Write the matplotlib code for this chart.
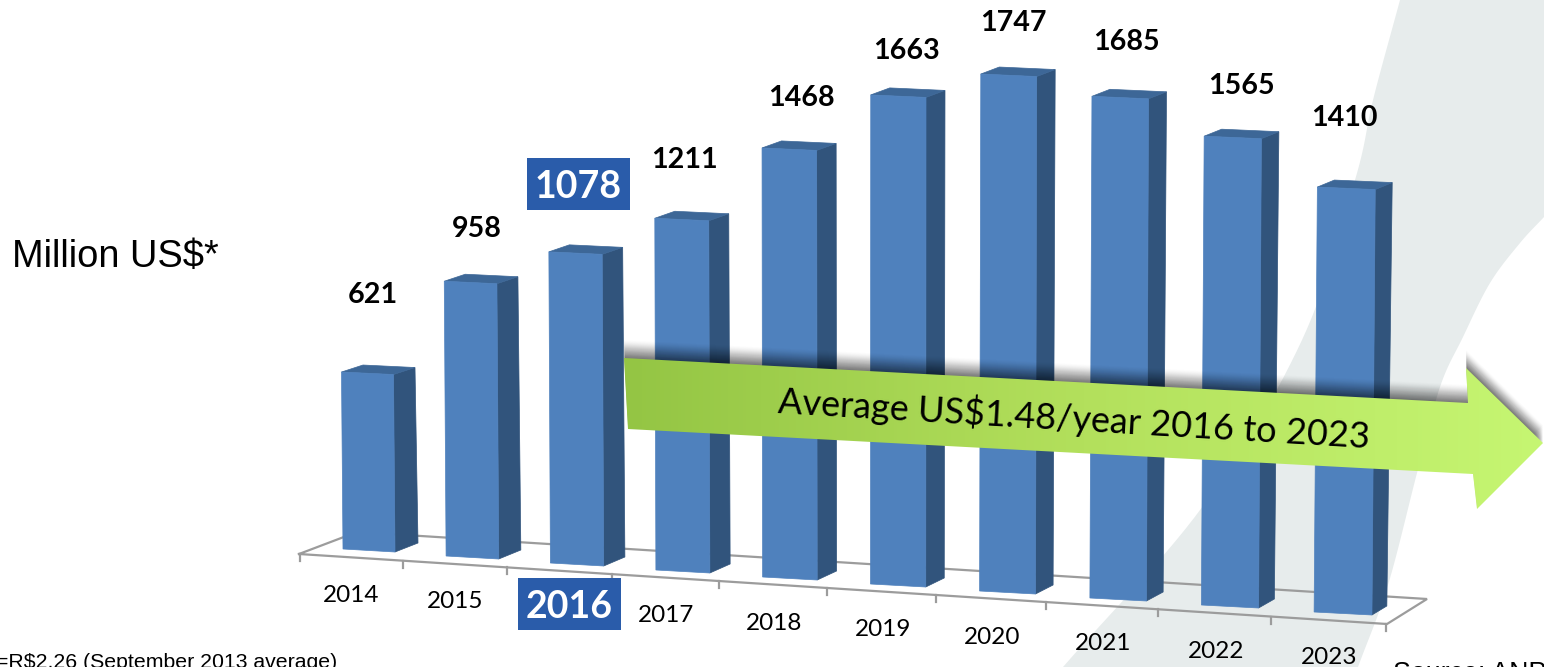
import numpy as np
import matplotlib
matplotlib.use("Agg")
import matplotlib.pyplot as plt
from matplotlib.patches import Polygon, Rectangle
from matplotlib.colors import LinearSegmentedColormap

# ---- data
years = ["2014", "2015", "2016", "2017", "2018", "2019", "2020", "2021", "2022", "2023"]
values = [621, 958, 1078, 1211, 1468, 1663, 1747, 1685, 1565, 1410]
highlight = "2016"
arrow_text = "Average US$1.48/year 2016 to 2023"
unit_text = "Million US$*"
note_text = "=R$2.26 (September 2013 average)"
source_text = "Source: ANP"

# ---- layout (pixel space of the slide)
W, H = 1544, 667
value_label_pos = [(373, 292), (477, 226), (578, 184), (684, 157), (801, 95),
                   (906, 48), (1013, 20), (1126, 39), (1241, 83), (1344, 115)]
year_label_pos = [(351.5, 592), (455.5, 599), (569.5, 604), (666.5, 613), (774.5, 620),
                  (883.5, 627), (992.5, 634), (1103.5, 641), (1216.5, 648), (1329.5, 655)]
C_FRONT, C_SIDE, C_TOP = "#4f81bd", "#31547c", "#3d6797"
C_BOX = "#2a5caa"
C_FLOOR = "#9c9c9c"
C_SWOOSH = "#e7ecec"
LATO = "Lato"
ARIAL = "Liberation Sans"
TEXT_DY = 3  # Lato's centre sits a little high

fig = plt.figure(figsize=(W / 100, H / 100), dpi=100, facecolor="white")
ax = fig.add_axes([0, 0, 1, 1])
ax.set_xlim(0, W)
ax.set_ylim(H, 0)
ax.axis("off")


def smooth(pts, n=14):
    """Catmull-Rom through outline points."""
    p = np.array(pts, float)
    p = np.vstack([2 * p[0] - p[1], p, 2 * p[-1] - p[-2]])
    out = []
    for k in range(1, len(p) - 2):
        for t in np.linspace(0, 1, n, endpoint=False):
            a, b, c, d = p[k - 1], p[k], p[k + 1], p[k + 2]
            out.append(0.5 * (2 * b + (c - a) * t + (2 * a - 5 * b + 4 * c - d) * t ** 2
                              + (3 * b - a - 3 * c + d) * t ** 3))
    out.append(p[-2])
    return np.array(out)


# background swoosh
left_edge = smooth([(1400, 0), (1373, 100), (1355, 180), (1302, 340), (1203, 506), (1063, 667)])
right_edge = smooth([(1358, 667), (1388, 585), (1417, 473), (1440, 387),
                     (1463, 337), (1490, 283), (1520, 243), (1544, 217)])
swoosh = np.vstack([left_edge, right_edge, [(1544, 0)]])
ax.add_patch(Polygon(swoosh, closed=True, fc=C_SWOOSH, ec="none", zorder=1))


# ---- perspective floor model
def x_left(i):
    return 343 + 102.5 * i + 0.6 * i ** 2


def y_base(i):
    return 549 + 7.0 * i


def bar_w(i):
    return 52 + 0.65 * i


def px_per_unit(i):
    return 0.285 + 0.00182 * i


def lean(i):
    return -0.0085 + 0.0018 * i


def front_line_y(x):
    return 554 + (x - 299) * (624 - 554) / (1387 - 299)


# floor
floor_lw = 1.6
ax.plot([299, 357, 1427, 1387, 299], [554, 532, 599, 624, 554], color=C_FLOOR, lw=floor_lw, zorder=2,
        solid_joinstyle="miter")
for i in range(len(years) + 1):
    tx = x_left(i) - 43.5 + (1.5 if i == len(years) else 0)
    ty = front_line_y(tx)
    ax.plot([tx, tx], [ty, ty + 7], color=C_FLOOR, lw=floor_lw, zorder=2)

# bars
for i, v in enumerate(values):
    h = v * px_per_unit(i)
    xl, yb, w = x_left(i), y_base(i), bar_w(i)
    xtop = xl + lean(i) * h
    ytop = yb - h
    d_bx, d_by = 23 - 0.9 * i, -9
    d_tx, d_ty = 21.5 - 0.5 * i, -7
    fl_b, fr_b = (xl, yb), (xl + w, yb + 3)
    fl_t, fr_t = (xtop, ytop), (xtop + w, ytop + 2.5)
    br_b = (fr_b[0] + d_bx, fr_b[1] + d_by)
    br_t = (fr_t[0] + d_tx, fr_t[1] + d_ty)
    bl_t = (fl_t[0] + d_tx, fl_t[1] + d_ty)
    z = 3 + i * 0.01
    ax.add_patch(Polygon([fr_b, br_b, br_t, fr_t], fc=C_SIDE, ec=C_SIDE, lw=0.5, zorder=z))
    ax.add_patch(Polygon([fl_t, bl_t, br_t, fr_t], fc=C_TOP, ec=C_TOP, lw=0.5, zorder=z))
    ax.add_patch(Polygon([fl_b, fr_b, fr_t, fl_t], fc=C_FRONT, ec=C_FRONT, lw=0.5, zorder=z))

# year and value labels
for y, v, (vx, vy), (yx, yy) in zip(years, values, value_label_pos, year_label_pos):
    hi = y == highlight
    if hi:
        for cx, cy in ((vx, vy), (yx, yy)):
            ax.add_patch(Rectangle((cx - 51.5, cy - 26), 103, 52, fc=C_BOX, ec="none", zorder=5))
    ax.text(vx, vy + TEXT_DY, str(v), family=LATO, weight="bold", fontsize=27 if hi else 20.6,
            color="white" if hi else "black", ha="center", va="center", zorder=6)
    ax.text(yx, yy + TEXT_DY, y, family=LATO, weight="bold" if hi else "normal",
            fontsize=27 if hi else 17.5,
            color="white" if hi else "black", ha="center", va="center", zorder=6)

# arrow with a soft upward shadow (layers thin out away from the arrow)
arrow = [(624, 358), (1468, 403), (1466, 368), (1543, 443), (1477, 509), (1473, 474), (628, 429)]
for k in range(1, 19):
    ax.add_patch(Polygon([(x, y - k) for x, y in arrow], fc="black", ec="none",
                         alpha=0.05 * (1 - (k - 1) / 18) ** 0.6 + 0.004, zorder=7))
cmap = LinearSegmentedColormap.from_list("g", ["#94c544", "#b3e05c", "#c6f672"])
grad = np.linspace(0, 1, 256).reshape(1, -1)
im = ax.imshow(grad, cmap=cmap, extent=(624, 1544, 510, 350), aspect="auto", zorder=8)
clip = Polygon(arrow, closed=True, fc="none", ec="none", transform=ax.transData)
ax.add_patch(clip)
im.set_clip_path(clip)
ax.set_xlim(0, W)
ax.set_ylim(H, 0)
ax.text(1074, 418, arrow_text, family=LATO, fontsize=26, color="black", rotation=-3.4,
        rotation_mode="anchor", ha="center", va="center", zorder=9)

# free text
ax.text(12, 257, unit_text, family=ARIAL, fontsize=27.4, color="black", ha="left", va="center", zorder=6)
ax.text(-4, 668, note_text, family=ARIAL, fontsize=15.3, color="black", ha="left", va="baseline", zorder=6)
ax.text(1393, 681, source_text, family=ARIAL, fontsize=19.3, color="black", ha="left", va="baseline", zorder=6)

fig.savefig("out.png", dpi=100)
